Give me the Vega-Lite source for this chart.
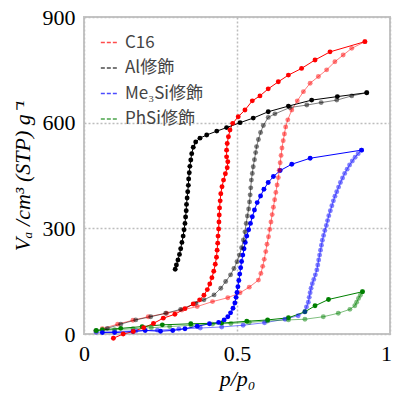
{
  "$schema": "https://vega.github.io/schema/vega-lite/v6.json",
  "width": 306,
  "height": 317,
  "autosize": "none",
  "padding": {"left": 84, "top": 17, "right": 3, "bottom": 62},
  "background": "white",
  "config": {
    "view": {"stroke": "#c4c4c4", "strokeWidth": 2},
    "axis": {
      "labelFont": "Liberation Serif",
      "labelFontSize": 22,
      "labelColor": "black",
      "titleFont": "Liberation Serif",
      "titleFontSize": 22,
      "titleFontStyle": "italic",
      "titleFontWeight": "normal",
      "titleColor": "black",
      "domain": false,
      "ticks": false,
      "gridColor": "#bdbdbd",
      "gridDash": [2, 2],
      "gridWidth": 1.5
    }
  },
  "data": {
    "values": [
      {"s":"C16","b":"ads","i":1,"x":0.06,"y":15},{"s":"C16","b":"ads","i":2,"x":0.11,"y":28},{"s":"C16","b":"ads","i":3,"x":0.16,"y":39},{"s":"C16","b":"ads","i":4,"x":0.21,"y":49},{"s":"C16","b":"ads","i":5,"x":0.27,"y":59},{"s":"C16","b":"ads","i":6,"x":0.32,"y":68},{"s":"C16","b":"ads","i":7,"x":0.37,"y":78},{"s":"C16","b":"ads","i":8,"x":0.42,"y":92},{"s":"C16","b":"ads","i":9,"x":0.47,"y":103},{"s":"C16","b":"ads","i":10,"x":0.51,"y":117},{"s":"C16","b":"ads","i":11,"x":0.54,"y":133},{"s":"C16","b":"ads","i":12,"x":0.57,"y":153},{"s":"C16","b":"ads","i":13,"x":0.578,"y":172},{"s":"C16","b":"ads","i":14,"x":0.584,"y":192},{"s":"C16","b":"ads","i":15,"x":0.589,"y":212},{"s":"C16","b":"ads","i":16,"x":0.594,"y":234},{"s":"C16","b":"ads","i":17,"x":0.598,"y":255},{"s":"C16","b":"ads","i":18,"x":0.603,"y":276},{"s":"C16","b":"ads","i":19,"x":0.607,"y":297},{"s":"C16","b":"ads","i":20,"x":0.611,"y":318},{"s":"C16","b":"ads","i":21,"x":0.615,"y":339},{"s":"C16","b":"ads","i":22,"x":0.619,"y":360},{"s":"C16","b":"ads","i":23,"x":0.623,"y":381},{"s":"C16","b":"ads","i":24,"x":0.627,"y":402},{"s":"C16","b":"ads","i":25,"x":0.631,"y":423},{"s":"C16","b":"ads","i":26,"x":0.635,"y":444},{"s":"C16","b":"ads","i":27,"x":0.638,"y":465},{"s":"C16","b":"ads","i":28,"x":0.641,"y":486},{"s":"C16","b":"ads","i":29,"x":0.644,"y":507},{"s":"C16","b":"ads","i":30,"x":0.647,"y":528},{"s":"C16","b":"ads","i":31,"x":0.651,"y":549},{"s":"C16","b":"ads","i":32,"x":0.655,"y":568},{"s":"C16","b":"ads","i":33,"x":0.659,"y":588},{"s":"C16","b":"ads","i":34,"x":0.666,"y":608},{"s":"C16","b":"ads","i":35,"x":0.679,"y":636},{"s":"C16","b":"ads","i":36,"x":0.697,"y":662},{"s":"C16","b":"ads","i":37,"x":0.717,"y":688},{"s":"C16","b":"ads","i":38,"x":0.739,"y":712},{"s":"C16","b":"ads","i":39,"x":0.766,"y":731},{"s":"C16","b":"ads","i":40,"x":0.793,"y":750},{"s":"C16","b":"ads","i":41,"x":0.82,"y":773},{"s":"C16","b":"ads","i":42,"x":0.847,"y":792},{"s":"C16","b":"ads","i":43,"x":0.875,"y":811},{"s":"C16","b":"ads","i":44,"x":0.918,"y":830},
      {"s":"C16","b":"des","i":1,"x":0.918,"y":830},{"s":"C16","b":"des","i":2,"x":0.804,"y":801},{"s":"C16","b":"des","i":3,"x":0.755,"y":778},{"s":"C16","b":"des","i":4,"x":0.711,"y":754},{"s":"C16","b":"des","i":5,"x":0.668,"y":735},{"s":"C16","b":"des","i":6,"x":0.635,"y":716},{"s":"C16","b":"des","i":7,"x":0.602,"y":696},{"s":"C16","b":"des","i":8,"x":0.575,"y":676},{"s":"C16","b":"des","i":9,"x":0.55,"y":662},{"s":"C16","b":"des","i":10,"x":0.526,"y":636},{"s":"C16","b":"des","i":11,"x":0.504,"y":617},{"s":"C16","b":"des","i":12,"x":0.486,"y":598},{"s":"C16","b":"des","i":13,"x":0.477,"y":579},{"s":"C16","b":"des","i":14,"x":0.472,"y":560},{"s":"C16","b":"des","i":15,"x":0.468,"y":541},{"s":"C16","b":"des","i":16,"x":0.466,"y":522},{"s":"C16","b":"des","i":17,"x":0.466,"y":503},{"s":"C16","b":"des","i":18,"x":0.47,"y":489},{"s":"C16","b":"des","i":19,"x":0.468,"y":472},{"s":"C16","b":"des","i":20,"x":0.462,"y":455},{"s":"C16","b":"des","i":21,"x":0.456,"y":437},{"s":"C16","b":"des","i":22,"x":0.451,"y":418},{"s":"C16","b":"des","i":23,"x":0.447,"y":398},{"s":"C16","b":"des","i":24,"x":0.445,"y":378},{"s":"C16","b":"des","i":25,"x":0.443,"y":358},{"s":"C16","b":"des","i":26,"x":0.442,"y":338},{"s":"C16","b":"des","i":27,"x":0.441,"y":318},{"s":"C16","b":"des","i":28,"x":0.44,"y":298},{"s":"C16","b":"des","i":29,"x":0.438,"y":278},{"s":"C16","b":"des","i":30,"x":0.437,"y":258},{"s":"C16","b":"des","i":31,"x":0.435,"y":238},{"s":"C16","b":"des","i":32,"x":0.433,"y":218},{"s":"C16","b":"des","i":33,"x":0.429,"y":198},{"s":"C16","b":"des","i":34,"x":0.424,"y":178},{"s":"C16","b":"des","i":35,"x":0.418,"y":160},{"s":"C16","b":"des","i":36,"x":0.411,"y":142},{"s":"C16","b":"des","i":37,"x":0.403,"y":126},{"s":"C16","b":"des","i":38,"x":0.392,"y":110},{"s":"C16","b":"des","i":39,"x":0.378,"y":97},{"s":"C16","b":"des","i":40,"x":0.357,"y":85},{"s":"C16","b":"des","i":41,"x":0.33,"y":72},{"s":"C16","b":"des","i":42,"x":0.297,"y":56},{"s":"C16","b":"des","i":43,"x":0.259,"y":45},{"s":"C16","b":"des","i":44,"x":0.227,"y":30},{"s":"C16","b":"des","i":45,"x":0.195,"y":18},{"s":"C16","b":"des","i":46,"x":0.161,"y":7},{"s":"C16","b":"des","i":47,"x":0.128,"y":0},{"s":"C16","b":"des","i":48,"x":0.096,"y":-12},
      {"s":"Al修飾","b":"ads","i":1,"x":0.038,"y":9},{"s":"Al修飾","b":"ads","i":2,"x":0.076,"y":16},{"s":"Al修飾","b":"ads","i":3,"x":0.12,"y":28},{"s":"Al修飾","b":"ads","i":4,"x":0.169,"y":40},{"s":"Al修飾","b":"ads","i":5,"x":0.218,"y":49},{"s":"Al修飾","b":"ads","i":6,"x":0.267,"y":59},{"s":"Al修飾","b":"ads","i":7,"x":0.316,"y":70},{"s":"Al修飾","b":"ads","i":8,"x":0.365,"y":87},{"s":"Al修飾","b":"ads","i":9,"x":0.392,"y":97},{"s":"Al修飾","b":"ads","i":10,"x":0.425,"y":111},{"s":"Al修飾","b":"ads","i":11,"x":0.447,"y":130},{"s":"Al修飾","b":"ads","i":12,"x":0.463,"y":149},{"s":"Al修飾","b":"ads","i":13,"x":0.479,"y":168},{"s":"Al修飾","b":"ads","i":14,"x":0.49,"y":186},{"s":"Al修飾","b":"ads","i":15,"x":0.5,"y":205},{"s":"Al修飾","b":"ads","i":16,"x":0.508,"y":224},{"s":"Al修飾","b":"ads","i":17,"x":0.515,"y":245},{"s":"Al修飾","b":"ads","i":18,"x":0.521,"y":267},{"s":"Al修飾","b":"ads","i":19,"x":0.526,"y":290},{"s":"Al修飾","b":"ads","i":20,"x":0.53,"y":314},{"s":"Al修飾","b":"ads","i":21,"x":0.534,"y":335},{"s":"Al修飾","b":"ads","i":22,"x":0.538,"y":355},{"s":"Al修飾","b":"ads","i":23,"x":0.541,"y":375},{"s":"Al修飾","b":"ads","i":24,"x":0.543,"y":395},{"s":"Al修飾","b":"ads","i":25,"x":0.545,"y":415},{"s":"Al修飾","b":"ads","i":26,"x":0.547,"y":437},{"s":"Al修飾","b":"ads","i":27,"x":0.55,"y":456},{"s":"Al修飾","b":"ads","i":28,"x":0.553,"y":475},{"s":"Al修飾","b":"ads","i":29,"x":0.557,"y":495},{"s":"Al修飾","b":"ads","i":30,"x":0.561,"y":515},{"s":"Al修飾","b":"ads","i":31,"x":0.564,"y":532},{"s":"Al修飾","b":"ads","i":32,"x":0.57,"y":552},{"s":"Al修飾","b":"ads","i":33,"x":0.577,"y":572},{"s":"Al修飾","b":"ads","i":34,"x":0.586,"y":592},{"s":"Al修飾","b":"ads","i":35,"x":0.602,"y":615},{"s":"Al修飾","b":"ads","i":36,"x":0.624,"y":625},{"s":"Al修飾","b":"ads","i":37,"x":0.673,"y":643},{"s":"Al修飾","b":"ads","i":38,"x":0.728,"y":650},{"s":"Al修飾","b":"ads","i":39,"x":0.775,"y":657},{"s":"Al修飾","b":"ads","i":40,"x":0.826,"y":664},{"s":"Al修飾","b":"ads","i":41,"x":0.875,"y":676},{"s":"Al修飾","b":"ads","i":42,"x":0.924,"y":685},
      {"s":"Al修飾","b":"des","i":1,"x":0.924,"y":685},{"s":"Al修飾","b":"des","i":2,"x":0.828,"y":674},{"s":"Al修飾","b":"des","i":3,"x":0.744,"y":664},{"s":"Al修飾","b":"des","i":4,"x":0.668,"y":647},{"s":"Al修飾","b":"des","i":5,"x":0.602,"y":631},{"s":"Al修飾","b":"des","i":6,"x":0.553,"y":613},{"s":"Al修飾","b":"des","i":7,"x":0.51,"y":600},{"s":"Al修飾","b":"des","i":8,"x":0.466,"y":586},{"s":"Al修飾","b":"des","i":9,"x":0.434,"y":576},{"s":"Al修飾","b":"des","i":10,"x":0.401,"y":565},{"s":"Al修飾","b":"des","i":11,"x":0.379,"y":556},{"s":"Al修飾","b":"des","i":12,"x":0.365,"y":545},{"s":"Al修飾","b":"des","i":13,"x":0.357,"y":530},{"s":"Al修飾","b":"des","i":14,"x":0.352,"y":512},{"s":"Al修飾","b":"des","i":15,"x":0.349,"y":494},{"s":"Al修飾","b":"des","i":16,"x":0.346,"y":476},{"s":"Al修飾","b":"des","i":17,"x":0.344,"y":458},{"s":"Al修飾","b":"des","i":18,"x":0.342,"y":440},{"s":"Al修飾","b":"des","i":19,"x":0.341,"y":422},{"s":"Al修飾","b":"des","i":20,"x":0.339,"y":404},{"s":"Al修飾","b":"des","i":21,"x":0.337,"y":386},{"s":"Al修飾","b":"des","i":22,"x":0.335,"y":368},{"s":"Al修飾","b":"des","i":23,"x":0.334,"y":350},{"s":"Al修飾","b":"des","i":24,"x":0.332,"y":332},{"s":"Al修飾","b":"des","i":25,"x":0.33,"y":314},{"s":"Al修飾","b":"des","i":26,"x":0.327,"y":296},{"s":"Al修飾","b":"des","i":27,"x":0.324,"y":278},{"s":"Al修飾","b":"des","i":28,"x":0.32,"y":260},{"s":"Al修飾","b":"des","i":29,"x":0.316,"y":242},{"s":"Al修飾","b":"des","i":30,"x":0.312,"y":226},{"s":"Al修飾","b":"des","i":31,"x":0.307,"y":210},{"s":"Al修飾","b":"des","i":32,"x":0.302,"y":196},{"s":"Al修飾","b":"des","i":33,"x":0.298,"y":184},
      {"s":"Me₃Si修飾","b":"ads","i":1,"x":0.04,"y":5},{"s":"Me₃Si修飾","b":"ads","i":2,"x":0.1,"y":7},{"s":"Me₃Si修飾","b":"ads","i":3,"x":0.17,"y":9},{"s":"Me₃Si修飾","b":"ads","i":4,"x":0.24,"y":11},{"s":"Me₃Si修飾","b":"ads","i":5,"x":0.31,"y":14},{"s":"Me₃Si修飾","b":"ads","i":6,"x":0.38,"y":17},{"s":"Me₃Si修飾","b":"ads","i":7,"x":0.45,"y":20},{"s":"Me₃Si修飾","b":"ads","i":8,"x":0.52,"y":25},{"s":"Me₃Si修飾","b":"ads","i":9,"x":0.59,"y":32},{"s":"Me₃Si修飾","b":"ads","i":10,"x":0.657,"y":42},{"s":"Me₃Si修飾","b":"ads","i":11,"x":0.7,"y":52},{"s":"Me₃Si修飾","b":"ads","i":12,"x":0.722,"y":63},{"s":"Me₃Si修飾","b":"ads","i":13,"x":0.727,"y":77},{"s":"Me₃Si修飾","b":"ads","i":14,"x":0.733,"y":90},{"s":"Me₃Si修飾","b":"ads","i":15,"x":0.736,"y":104},{"s":"Me₃Si修飾","b":"ads","i":16,"x":0.739,"y":117},{"s":"Me₃Si修飾","b":"ads","i":17,"x":0.742,"y":130},{"s":"Me₃Si修飾","b":"ads","i":18,"x":0.746,"y":143},{"s":"Me₃Si修飾","b":"ads","i":19,"x":0.751,"y":155},{"s":"Me₃Si修飾","b":"ads","i":20,"x":0.756,"y":168},{"s":"Me₃Si修飾","b":"ads","i":21,"x":0.761,"y":182},{"s":"Me₃Si修飾","b":"ads","i":22,"x":0.764,"y":196},{"s":"Me₃Si修飾","b":"ads","i":23,"x":0.767,"y":210},{"s":"Me₃Si修飾","b":"ads","i":24,"x":0.77,"y":224},{"s":"Me₃Si修飾","b":"ads","i":25,"x":0.773,"y":238},{"s":"Me₃Si修飾","b":"ads","i":26,"x":0.776,"y":252},{"s":"Me₃Si修飾","b":"ads","i":27,"x":0.779,"y":266},{"s":"Me₃Si修飾","b":"ads","i":28,"x":0.783,"y":280},{"s":"Me₃Si修飾","b":"ads","i":29,"x":0.787,"y":294},{"s":"Me₃Si修飾","b":"ads","i":30,"x":0.792,"y":308},{"s":"Me₃Si修飾","b":"ads","i":31,"x":0.796,"y":322},{"s":"Me₃Si修飾","b":"ads","i":32,"x":0.8,"y":336},{"s":"Me₃Si修飾","b":"ads","i":33,"x":0.805,"y":350},{"s":"Me₃Si修飾","b":"ads","i":34,"x":0.81,"y":364},{"s":"Me₃Si修飾","b":"ads","i":35,"x":0.815,"y":378},{"s":"Me₃Si修飾","b":"ads","i":36,"x":0.82,"y":391},{"s":"Me₃Si修飾","b":"ads","i":37,"x":0.826,"y":404},{"s":"Me₃Si修飾","b":"ads","i":38,"x":0.832,"y":417},{"s":"Me₃Si修飾","b":"ads","i":39,"x":0.838,"y":430},{"s":"Me₃Si修飾","b":"ads","i":40,"x":0.845,"y":443},{"s":"Me₃Si修飾","b":"ads","i":41,"x":0.852,"y":456},{"s":"Me₃Si修飾","b":"ads","i":42,"x":0.86,"y":468},{"s":"Me₃Si修飾","b":"ads","i":43,"x":0.868,"y":480},{"s":"Me₃Si修飾","b":"ads","i":44,"x":0.877,"y":491},{"s":"Me₃Si修飾","b":"ads","i":45,"x":0.886,"y":502},{"s":"Me₃Si修飾","b":"ads","i":46,"x":0.896,"y":512},{"s":"Me₃Si修飾","b":"ads","i":47,"x":0.907,"y":522},
      {"s":"Me₃Si修飾","b":"des","i":1,"x":0.907,"y":522},{"s":"Me₃Si修飾","b":"des","i":2,"x":0.739,"y":499},{"s":"Me₃Si修飾","b":"des","i":3,"x":0.679,"y":482},{"s":"Me₃Si修飾","b":"des","i":4,"x":0.641,"y":464},{"s":"Me₃Si修飾","b":"des","i":5,"x":0.619,"y":447},{"s":"Me₃Si修飾","b":"des","i":6,"x":0.602,"y":430},{"s":"Me₃Si修飾","b":"des","i":7,"x":0.588,"y":411},{"s":"Me₃Si修飾","b":"des","i":8,"x":0.577,"y":392},{"s":"Me₃Si修飾","b":"des","i":9,"x":0.566,"y":373},{"s":"Me₃Si修飾","b":"des","i":10,"x":0.557,"y":352},{"s":"Me₃Si修飾","b":"des","i":11,"x":0.55,"y":333},{"s":"Me₃Si修飾","b":"des","i":12,"x":0.544,"y":314},{"s":"Me₃Si修飾","b":"des","i":13,"x":0.538,"y":296},{"s":"Me₃Si修飾","b":"des","i":14,"x":0.532,"y":278},{"s":"Me₃Si修飾","b":"des","i":15,"x":0.527,"y":260},{"s":"Me₃Si修飾","b":"des","i":16,"x":0.523,"y":242},{"s":"Me₃Si修飾","b":"des","i":17,"x":0.519,"y":224},{"s":"Me₃Si修飾","b":"des","i":18,"x":0.515,"y":206},{"s":"Me₃Si修飾","b":"des","i":19,"x":0.512,"y":188},{"s":"Me₃Si修飾","b":"des","i":20,"x":0.509,"y":170},{"s":"Me₃Si修飾","b":"des","i":21,"x":0.506,"y":152},{"s":"Me₃Si修飾","b":"des","i":22,"x":0.503,"y":134},{"s":"Me₃Si修飾","b":"des","i":23,"x":0.5,"y":118},{"s":"Me₃Si修飾","b":"des","i":24,"x":0.497,"y":104},{"s":"Me₃Si修飾","b":"des","i":25,"x":0.493,"y":88},{"s":"Me₃Si修飾","b":"des","i":26,"x":0.487,"y":73},{"s":"Me₃Si修飾","b":"des","i":27,"x":0.479,"y":60},{"s":"Me₃Si修飾","b":"des","i":28,"x":0.47,"y":49},{"s":"Me₃Si修飾","b":"des","i":29,"x":0.458,"y":40},{"s":"Me₃Si修飾","b":"des","i":30,"x":0.44,"y":33},{"s":"Me₃Si修飾","b":"des","i":31,"x":0.41,"y":29},{"s":"Me₃Si修飾","b":"des","i":32,"x":0.37,"y":22},{"s":"Me₃Si修飾","b":"des","i":33,"x":0.33,"y":15},{"s":"Me₃Si修飾","b":"des","i":34,"x":0.29,"y":10},{"s":"Me₃Si修飾","b":"des","i":35,"x":0.25,"y":8},{"s":"Me₃Si修飾","b":"des","i":36,"x":0.2,"y":10},{"s":"Me₃Si修飾","b":"des","i":37,"x":0.16,"y":7},{"s":"Me₃Si修飾","b":"des","i":38,"x":0.1,"y":4},{"s":"Me₃Si修飾","b":"des","i":39,"x":0.06,"y":4},
      {"s":"PhSi修飾","b":"ads","i":1,"x":0.04,"y":9},{"s":"PhSi修飾","b":"ads","i":2,"x":0.1,"y":12},{"s":"PhSi修飾","b":"ads","i":3,"x":0.16,"y":15},{"s":"PhSi修飾","b":"ads","i":4,"x":0.22,"y":18},{"s":"PhSi修飾","b":"ads","i":5,"x":0.28,"y":21},{"s":"PhSi修飾","b":"ads","i":6,"x":0.35,"y":25},{"s":"PhSi修飾","b":"ads","i":7,"x":0.42,"y":28},{"s":"PhSi修飾","b":"ads","i":8,"x":0.48,"y":30},{"s":"PhSi修飾","b":"ads","i":9,"x":0.54,"y":33},{"s":"PhSi修飾","b":"ads","i":10,"x":0.6,"y":37},{"s":"PhSi修飾","b":"ads","i":11,"x":0.668,"y":40},{"s":"PhSi修飾","b":"ads","i":12,"x":0.722,"y":42},{"s":"PhSi修飾","b":"ads","i":13,"x":0.782,"y":49},{"s":"PhSi修飾","b":"ads","i":14,"x":0.831,"y":59},{"s":"PhSi修飾","b":"ads","i":15,"x":0.869,"y":70},{"s":"PhSi修飾","b":"ads","i":16,"x":0.885,"y":80},{"s":"PhSi修飾","b":"ads","i":17,"x":0.891,"y":90},{"s":"PhSi修飾","b":"ads","i":18,"x":0.897,"y":101},{"s":"PhSi修飾","b":"ads","i":19,"x":0.903,"y":110},{"s":"PhSi修飾","b":"ads","i":20,"x":0.91,"y":120},
      {"s":"PhSi修飾","b":"des","i":1,"x":0.91,"y":120},{"s":"PhSi修飾","b":"des","i":2,"x":0.799,"y":98},{"s":"PhSi修飾","b":"des","i":3,"x":0.755,"y":80},{"s":"PhSi修飾","b":"des","i":4,"x":0.722,"y":63},{"s":"PhSi修飾","b":"des","i":5,"x":0.668,"y":46},{"s":"PhSi修飾","b":"des","i":6,"x":0.6,"y":40},{"s":"PhSi修飾","b":"des","i":7,"x":0.532,"y":36},{"s":"PhSi修飾","b":"des","i":8,"x":0.45,"y":31},{"s":"PhSi修飾","b":"des","i":9,"x":0.349,"y":29},{"s":"PhSi修飾","b":"des","i":10,"x":0.256,"y":26},{"s":"PhSi修飾","b":"des","i":11,"x":0.19,"y":21},{"s":"PhSi修飾","b":"des","i":12,"x":0.12,"y":16},{"s":"PhSi修飾","b":"des","i":13,"x":0.06,"y":12},{"s":"PhSi修飾","b":"des","i":14,"x":0.04,"y":10}
    ]
  },
  "encoding": {
    "x": {
      "field": "x", "type": "quantitative",
      "scale": {"domain": [0, 1], "nice": false},
      "axis": {
        "values": [0, 0.5, 1], "format": "~g", "labelPadding": 9, "title": "p/p₀", "titlePadding": 4, "labelFlush": false,
        "labelOffset": {"condition": {"test": "datum.value == 1", "value": -4}, "value": 0}
      }
    },
    "y": {
      "field": "y", "type": "quantitative",
      "scale": {"domain": [0, 900], "nice": false},
      "axis": {"values": [0, 300, 600, 900], "labelPadding": 9, "title": "Vₐ /cm³ (STP) g⁻¹", "titlePadding": 8}
    },
    "color": {
      "field": "s", "type": "nominal",
      "scale": {"domain": ["C16", "Al修飾", "Me₃Si修飾", "PhSi修飾"], "range": ["#ff0000", "#000000", "#0000ff", "#008000"]},
      "legend": {
        "title": null, "orient": "none", "legendX": 16, "legendY": 16,
        "symbolType": "stroke", "symbolDash": [4, 2], "symbolSize": 300, "symbolStrokeWidth": 1.5,
        "labelFont": "Noto Sans CJK JP", "labelFontSize": 17, "labelColor": "#444444", "labelOffset": 6,
        "rowPadding": 7.5
      }
    },
    "opacity": {
      "field": "b", "type": "nominal",
      "scale": {"domain": ["des", "ads"], "range": [1, 0.5]},
      "legend": null
    },
    "detail": {"field": "b"},
    "order": {"field": "i", "type": "quantitative"}
  },
  "layer": [
    {"mark": {"type": "line", "strokeWidth": 1, "clip": false}},
    {"mark": {"type": "point", "filled": true, "size": 24, "clip": false}}
  ]
}
